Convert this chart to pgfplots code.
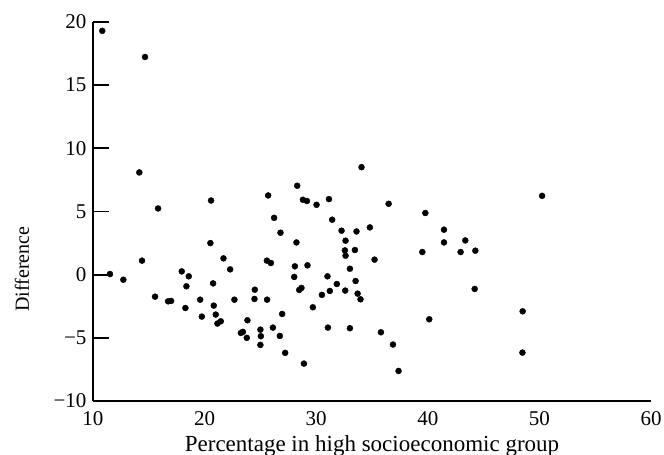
\documentclass[border=0pt]{standalone}
\usepackage{fontspec}
\setmainfont{Liberation Serif}
\usepackage{pgfplots}
\pgfplotsset{compat=1.18}
\begin{document}
\begin{tikzpicture}
\path[use as bounding box] (-93pt,-54pt) rectangle (571pt,401pt);
\begin{axis}[
 at={(0pt,0pt)}, anchor=south west,
 scale only axis, width=558pt, height=379pt,
 xmin=10, xmax=60, ymin=-10, ymax=20,
 axis x line=bottom, axis y line=left,
 axis line style={line width=2pt, -},
 xtick={10,20,30,40,50,60}, xticklabels={10,20,30,40,50,60},
 ytick={-10,-5,0,5,10,15,20}, yticklabels={−10,−5,0,5,10,15,20},
 tick align=inside, major tick length=16pt,
 x tick style={draw=none}, y tick style={line width=1.8pt, black},
 ticklabel style={font=\fontsize{21}{24}\selectfont},
 xticklabel style={yshift=-7pt},
 yticklabel style={xshift=-3pt},
 xlabel={Percentage in high socioeconomic group}, ylabel={Difference},
 xlabel style={font=\fontsize{23}{26}\selectfont, at={(axis description cs:0.5,-0.118)}, anchor=center},
 ylabel style={font=\fontsize{20}{24}\selectfont, at={(axis description cs:-0.1272,0.348)}, anchor=center},
 clip=false,
]
\addplot[only marks, mark=*, mark size=3pt, black] coordinates {
(10.83,19.3) (14.66,17.23) (14.15,8.09) (11.52,0.05) (12.72,-0.4)
(15.83,5.24) (14.39,1.11) (15.56,-1.74) (16.73,-2.11) (17.0,-2.08)
(17.95,0.26) (18.58,-0.13) (18.37,-0.92) (18.28,-2.64) (19.6,-1.98)
(19.75,-3.32) (20.58,5.87) (20.52,2.5) (20.76,-0.69) (20.82,-2.45)
(21.0,-3.16) (21.15,-3.87) (21.45,-3.69) (21.69,1.29) (22.29,0.42)
(22.67,-1.98) (23.25,-4.61) (23.43,-4.53) (23.78,-5.0) (23.84,-3.61)
(24.5,-1.19) (24.47,-1.92) (25.0,-4.35) (25.04,-4.87) (25.0,-5.56)
(26.12,-4.19) (26.74,-4.85) (27.22,-6.19) (26.95,-3.11) (28.9,-7.04)
(29.7,-2.58) (31.05,-4.19) (33.02,-4.24) (35.8,-4.56) (36.88,-5.53)
(37.38,-7.62) (40.13,-3.53) (25.6,-1.98) (25.58,1.11) (25.94,0.92)
(25.7,6.27) (26.23,4.5) (26.8,3.32) (28.3,7.04) (28.23,2.55)
(28.09,0.66) (28.03,-0.18) (28.48,-1.21) (28.68,-1.05) (29.22,0.74)
(28.81,5.93) (29.17,5.83) (30.03,5.53) (31.14,5.98) (31.43,4.35)
(32.27,3.48) (32.63,2.69) (33.61,3.42) (32.57,1.92) (32.63,1.5)
(33.47,1.95) (34.81,3.74) (34.06,8.51) (36.49,5.61) (35.23,1.19)
(33.02,0.47) (31.01,-0.13) (31.22,-1.29) (31.85,-0.74) (30.51,-1.6)
(32.6,-1.26) (33.53,-0.5) (33.71,-1.5) (33.97,-1.95) (39.51,1.79)
(39.78,4.88) (41.45,3.56) (41.45,2.55) (43.36,2.71) (42.94,1.79)
(44.26,1.9) (44.2,-1.13) (48.5,-2.9) (48.48,-6.17) (50.24,6.24)
};
\end{axis}
\end{tikzpicture}
\end{document}
